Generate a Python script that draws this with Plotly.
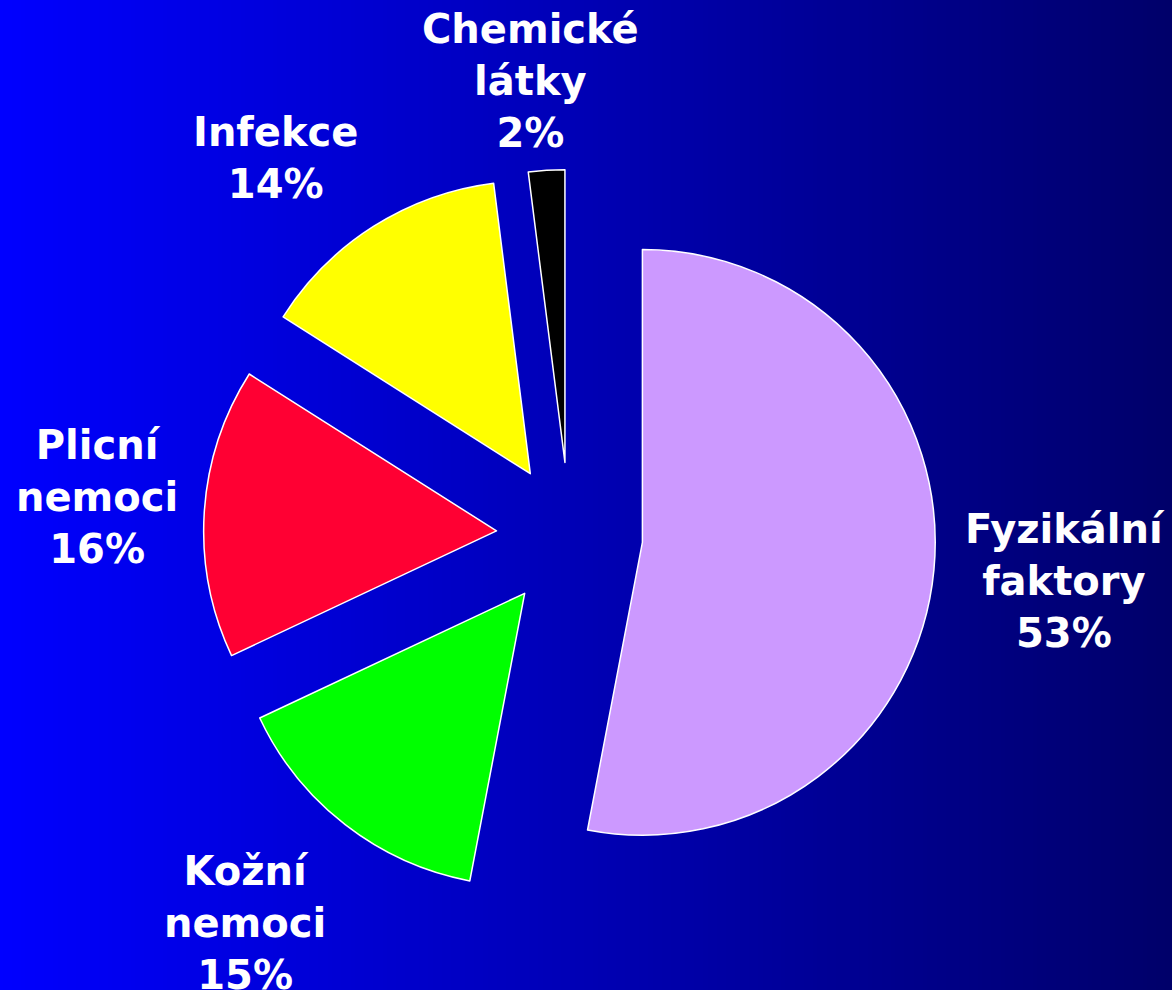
import base64
import struct
import zlib

import plotly.graph_objects as go

# ---- data ----
categories = ["Fyzikální<br>faktory", "Kožní<br>nemoci", "Plicní<br>nemoci", "Infekce", "Chemické<br>látky"]
values = [53, 15, 16, 14, 2]
colors = ["#CC99FF", "#00FF00", "#FF0033", "#FFFF00", "#000000"]

# label placement (paper coordinates, layout only)
label_pos = [(0.909, 0.413), (0.209, 0.068), (0.083, 0.498), (0.235, 0.84), (0.453, 0.918)]


# ---- background gradient as a tiny PNG ----
def make_png(width, height, rows):
    raw = b"".join(b"\x00" + bytes(r) for r in rows)

    def chunk(t, data):
        c = struct.pack(">I", len(data)) + t + data
        return c + struct.pack(">I", zlib.crc32(t + data) & 0xFFFFFFFF)

    return (b"\x89PNG\r\n\x1a\n"
            + chunk(b"IHDR", struct.pack(">IIBBBBB", width, height, 8, 2, 0, 0, 0))
            + chunk(b"IDAT", zlib.compress(raw))
            + chunk(b"IEND", b""))


W = 256
row = []
for i in range(W):
    t = i / (W - 1)
    b = int(round(255 - t * (255 - 106)))
    row += [0, 0, b]
png = make_png(W, 2, [row, row])
bg_uri = "data:image/png;base64," + base64.b64encode(png).decode()

fig = go.Figure()
fig.add_trace(go.Pie(
    labels=categories,
    values=values,
    sort=False,
    direction="clockwise",
    rotation=0,
    pull=[0.25] * len(values),
    marker=dict(colors=colors, line=dict(color="white", width=1.5)),
    textinfo="none",
    showlegend=False,
    domain=dict(x=[0.1735, 0.7984], y=[0.0894, 0.8288]),
))

total = sum(values)
annotations = []
for cat, v, (px, py) in zip(categories, values, label_pos):
    annotations.append(dict(
        x=px, y=py, xref="paper", yref="paper",
        xanchor="center", yanchor="middle",
        text=f"{cat}<br>{round(100 * v / total)}%",
        showarrow=False,
        font=dict(family="DejaVu Sans", size=40, color="white", weight="bold"),
    ))

fig.update_layout(
    width=1172, height=990,
    margin=dict(l=0, r=0, t=0, b=0),
    paper_bgcolor="#0000B4",
    plot_bgcolor="rgba(0,0,0,0)",
    images=[dict(source=bg_uri, xref="paper", yref="paper", x=0, y=1,
                 sizex=1, sizey=1, sizing="stretch", layer="below",
                 xanchor="left", yanchor="top")],
    annotations=annotations,
)

fig.write_html("out.html",
               config={"displayModeBar": False},
               post_script="document.body.style.margin='0';document.body.style.overflow='hidden';")
